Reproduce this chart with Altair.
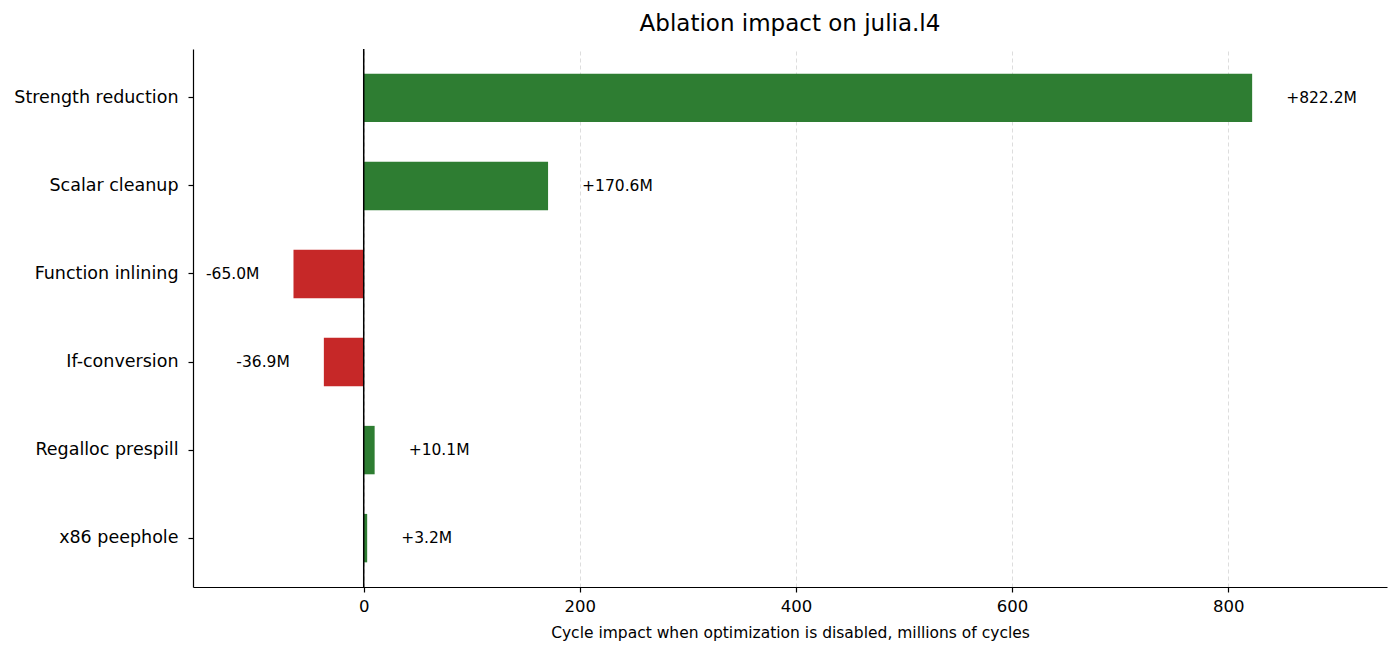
import altair as alt
import pandas as pd

# ablation results for julia.l4, millions of cycles
passes = ["Strength reduction", "Scalar cleanup", "Function inlining",
          "If-conversion", "Regalloc prespill", "x86 peephole"]
impact = [822.2, 170.6, -65.0, -36.9, 10.1, 3.2]
x_ticks = [0, 200, 400, 600, 800]

df = pd.DataFrame({"pass": passes, "impact": impact})
df["label"] = [f"{v:+.1f}M" for v in impact]

FONT = "DejaVu Sans"

x_scale = alt.Scale(domain=[-158, 947], nice=False, zero=False)
y_enc = alt.Y("pass:N", sort=passes, title=None,
              scale=alt.Scale(paddingInner=0.45, paddingOuter=0.28))

base = alt.Chart(df)

bars = base.mark_bar().encode(
    x=alt.X("impact:Q", scale=x_scale,
            title="Cycle impact when optimization is disabled, millions of cycles",
            axis=alt.Axis(values=x_ticks, grid=True)),
    y=y_enc,
    color=alt.condition(alt.datum.impact > 0,
                        alt.value("#2e7d32"), alt.value("#c62828")),
)

pos_text = base.mark_text(align="left", dx=34, fontSize=15.5, font=FONT,
                          color="black").encode(
    x="impact:Q", y=y_enc, text="label:N"
).transform_filter(alt.datum.impact >= 0)

neg_text = base.mark_text(align="right", dx=-34, fontSize=15.5, font=FONT,
                          color="black").encode(
    x="impact:Q", y=y_enc, text="label:N"
).transform_filter(alt.datum.impact < 0)

zero_line = alt.Chart(pd.DataFrame({"z": [0]})).mark_rule(
    color="black", strokeWidth=1.5
).encode(x=alt.X("z:Q", scale=x_scale))

chart = (
    alt.layer(bars, zero_line, pos_text, neg_text)
    .properties(
        width=1194, height=538,
        title=alt.TitleParams("Ablation impact on julia.l4", fontSize=23,
                              font=FONT, fontWeight="normal", color="black",
                              offset=12),
    )
    .configure_view(stroke=None)
    .configure_axis(
        domainColor="black", domainWidth=1.2, tickColor="black",
        tickSize=5, tickWidth=1.2, labelColor="black", titleColor="black",
        labelFont=FONT, titleFont=FONT, titleFontWeight="normal",
        gridColor="#dddddd", gridDash=[4, 3], gridWidth=1,
    )
    .configure_axisX(labelFontSize=16.5, titleFontSize=15.5,
                     labelPadding=6, titlePadding=11)
    .configure_axisY(labelFontSize=17.5, grid=False, labelPadding=10,
                     labelLimit=400)
)

chart.save("out.html", embed_options={"renderer": "svg", "actions": False})
